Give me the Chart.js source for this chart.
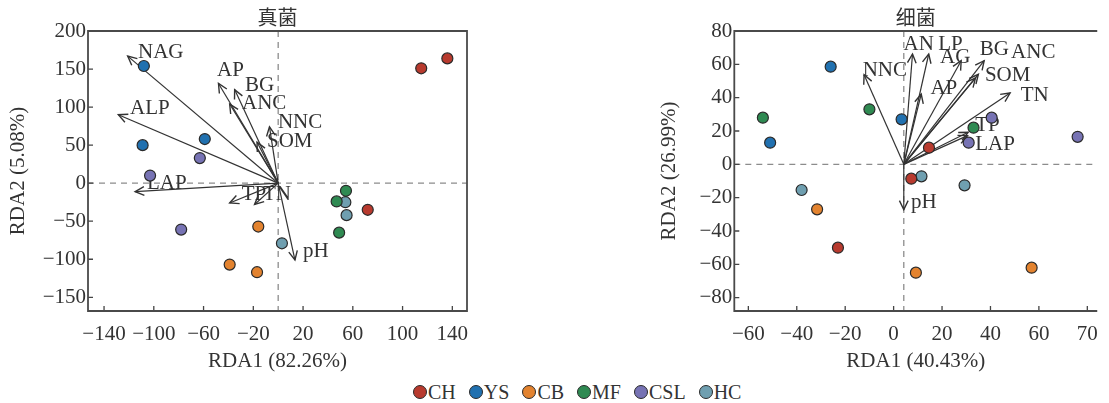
<!DOCTYPE html>
<html>
<head>
<meta charset="utf-8">
<script src="https://cdn.jsdelivr.net/npm/chart.js@4.4.0/dist/chart.umd.min.js"></script>
<style>
  body { margin: 0; background: #fff; width: 1109px; height: 403px; position: relative; overflow: hidden; }
  #leftBox { position: absolute; left: 0; top: 0; width: 480px; height: 380px; }
  #rightBox { position: absolute; left: 640px; top: 0; width: 469px; height: 380px; }
  #legend { position: absolute; left: 413px; top: 380px; height: 24px; display: flex; align-items: center; gap: 13px;
            font: 20px "Liberation Serif", "Times New Roman", serif; color: #333; }
  #legend .item { display: flex; align-items: center; }
  #legend .dot { width: 12px; height: 12px; border-radius: 50%; border: 1.2px solid #2a2a2a; margin-right: 1px; }
</style>
</head>
<body>
<div id="leftBox"><canvas id="fungi" width="480" height="380"></canvas></div>
<div id="rightBox"><canvas id="bacteria" width="469" height="380"></canvas></div>
<div id="legend"></div>
<script>
// groups
const groups = ['CH', 'YS', 'CB', 'MF', 'CSL', 'HC'];
const groupColors = ['#b83a2e', '#2171b0', '#e3832f', '#2f8a52', '#7773b4', '#6f9fb0'];

// 真菌 (fungi) sample scores, one row per group
const fungiX = [
  [115, 136, 72],
  [-108, -109, -59],
  [-16, -39, -17],
  [54.5, 47, 49],
  [-63, -103, -78],
  [54, 55, 3]
];
const fungiY = [
  [151, 164, -35],
  [154, 50, 58],
  [-57, -107, -117],
  [-10, -24, -65],
  [33, 10, -61],
  [-25, -42, -79]
];
// fungi environmental arrows
const fungiVars = ['NAG', 'AP', 'BG', 'ANC', 'NNC', 'SOM', 'ALP', 'LAP', 'TP', 'TN', 'pH'];
const fungiTipX = [-121, -48, -35, -39, -7, -17, -128.5, -115, -39, -19, 13.5];
const fungiTipY = [167, 131, 123, 104, 74, 54, 90, -11, -26, -28, -101];
const fungiLabelX = [-112.7, -49.2, -26.7, -29.1, -0.2, -9, -119.1, -105.5, -29.3, -12.2, 19.9];
const fungiLabelY = [172, 148, 128, 104.5, 79.5, 55, 98, -1, -15, -15, -89.5];
const fungiXTicks = [-140, -100, -60, -20, 20, 60, 100, 140];
const fungiXTickLabels = ['−140', '−100', '−60', '−20', '20', '60', '100', '140'];
const fungiYTicks = [-150, -100, -50, 0, 50, 100, 150, 200];
const fungiYTickLabels = ['−150', '−100', '−50', '0', '50', '100', '150', '200'];

// 细菌 (bacteria) sample scores
const bactX = [
  [14.6, 7.3, -23],
  [-26, -51, 3.3],
  [-31.6, 9.2, 57],
  [-54, -10, 33],
  [40.5, 31, 76],
  [11.5, 29.3, -38]
];
const bactY = [
  [10, -8.6, -50],
  [58.6, 13, 27],
  [-27, -65, -62],
  [28, 33, 22],
  [28, 13, 16.5],
  [-7.2, -12.6, -15.4]
];
const bactVars = ['NNC', 'AN', 'LP', 'AG', 'BG', 'ANC', 'SOM', 'AP', 'TN', 'TP', 'LAP', 'pH'];
const bactTipX = [-12.2, 7.8, 14.5, 27.9, 37.4, 35, 33.8, 11.4, 48.1, 30.8, 30.5, 4.2];
const bactTipY = [53.8, 66.2, 66.2, 62.2, 62.2, 54, 51.8, 42.2, 42.8, 19.2, 17.2, -27.2];
const bactLabelX = [-12.8, 4.1, 18.4, 19.2, 35.6, 48.5, 37.7, 15.2, 52.5, 33.7, 33.7, 7.2];
const bactLabelY = [56.2, 72.2, 72.2, 64.2, 69.2, 67.2, 53.2, 45.6, 41.6, 23.2, 12.2, -22.8];
const bactXTicks = [-60, -40, -20, 0, 20, 40, 60, 80];
const bactXTickLabels = ['−60', '−40', '−20', '0', '20', '40', '60', '70'];
const bactYTicks = [-80, -60, -40, -20, 0, 20, 40, 60, 80];
const bactYTickLabels = ['−80', '−60', '−40', '−20', '0', '20', '40', '60', '80'];

const SERIF = '"Liberation Serif", "Times New Roman", serif';
Chart.defaults.font.family = SERIF;
Chart.defaults.font.size = 21;
Chart.defaults.color = '#333';

const decor = {
  id: 'decor',
  beforeDatasetsDraw(chart, args, opts) {
    const { ctx, chartArea: a, scales: { x, y } } = chart;
    const ox = x.getPixelForValue(opts.originX);
    const oy = y.getPixelForValue(0);
    ctx.save();
    ctx.beginPath();
    ctx.rect(a.left, a.top, a.right - a.left, a.bottom - a.top);
    ctx.clip();
    // dashed reference lines
    ctx.strokeStyle = '#8c8c8c';
    ctx.lineWidth = 1.3;
    ctx.setLineDash([6, 5]);
    ctx.beginPath();
    ctx.moveTo(a.left, oy); ctx.lineTo(a.right, oy);
    ctx.moveTo(ox, a.top); ctx.lineTo(ox, a.bottom);
    ctx.stroke();
    ctx.setLineDash([]);
    // arrow heads
    ctx.strokeStyle = '#333';
    ctx.lineWidth = 1.4;
    opts.tipX.forEach((tx, i) => {
      const px = x.getPixelForValue(tx);
      const py = y.getPixelForValue(opts.tipY[i]);
      const ang = Math.atan2(py - oy, px - ox);
      ctx.beginPath();
      ctx.moveTo(px + 10 * Math.cos(ang + Math.PI - 0.45), py + 10 * Math.sin(ang + Math.PI - 0.45));
      ctx.lineTo(px, py);
      ctx.lineTo(px + 10 * Math.cos(ang + Math.PI + 0.45), py + 10 * Math.sin(ang + Math.PI + 0.45));
      ctx.stroke();
    });
    ctx.restore();
    // variable labels
    ctx.save();
    ctx.fillStyle = '#333';
    ctx.font = '21px ' + SERIF;
    ctx.textAlign = 'left';
    ctx.textBaseline = 'middle';
    opts.names.forEach((n, i) => {
      ctx.fillText(n, x.getPixelForValue(opts.labelX[i]), y.getPixelForValue(opts.labelY[i]));
    });
    ctx.restore();
  },
  afterDraw(chart, args, opts) {
    const { ctx, chartArea: a, scales: { x, y } } = chart;
    ctx.save();
    // inward tick marks
    ctx.strokeStyle = '#444';
    ctx.lineWidth = 1.3;
    ctx.beginPath();
    x.ticks.forEach(t => {
      const px = x.getPixelForValue(t.value);
      ctx.moveTo(px, a.bottom); ctx.lineTo(px, a.bottom - 5);
    });
    y.ticks.forEach(t => {
      const py = y.getPixelForValue(t.value);
      ctx.moveTo(a.left, py); ctx.lineTo(a.left + 5, py);
    });
    ctx.stroke();
    // frame
    ctx.strokeStyle = '#4a4a4a';
    ctx.lineWidth = 1.8;
    ctx.beginPath();
    if (opts.closed) {
      ctx.rect(a.left, a.top, a.right - a.left, a.bottom - a.top);
    } else {
      ctx.moveTo(a.right, a.top); ctx.lineTo(a.left, a.top);
      ctx.lineTo(a.left, a.bottom); ctx.lineTo(a.right, a.bottom);
    }
    ctx.stroke();
    // title
    ctx.fillStyle = '#333';
    ctx.font = '20px "Noto Sans CJK SC", sans-serif';
    ctx.textAlign = 'center';
    ctx.textBaseline = 'middle';
    ctx.fillText(opts.title, (a.left + a.right) / 2, 17);
    ctx.restore();
  }
};

function makeChart(id, d) {
  const datasets = [];
  d.names.forEach((n, i) => {
    datasets.push({
      data: [{ x: d.originX, y: 0 }, { x: d.tipX[i], y: d.tipY[i] }],
      showLine: true,
      borderColor: '#333',
      borderWidth: 1.2,
      pointRadius: 0,
      order: 2
    });
  });
  groups.forEach((g, gi) => {
    datasets.push({
      label: g,
      data: d.xs[gi].map((v, k) => ({ x: v, y: d.ys[gi][k] })),
      backgroundColor: groupColors[gi],
      borderColor: '#2a2a2a',
      borderWidth: 1.2,
      pointRadius: 5.5,
      order: 1
    });
  });
  return new Chart(document.getElementById(id), {
    type: 'scatter',
    data: { datasets },
    options: {
      responsive: false,
      animation: false,
      devicePixelRatio: 1,
      layout: { padding: d.padding },
      plugins: {
        legend: { display: false },
        tooltip: { enabled: false },
        decor: {
          originX: d.originX, tipX: d.tipX, tipY: d.tipY, names: d.names,
          labelX: d.labelX, labelY: d.labelY, title: d.title, closed: d.closed
        }
      },
      scales: {
        x: {
          type: 'linear', min: d.xMin, max: d.xMax,
          grid: { display: false, drawTicks: false },
          border: { display: false },
          afterBuildTicks: s => { s.ticks = d.xTicks.map(v => ({ value: v })); },
          afterFit: s => { s.height = 63; },
          ticks: { autoSkip: false, maxRotation: 0, padding: 11, callback: (v, i) => d.xTickLabels[i] },
          title: { display: true, text: d.xTitle, padding: 0 }
        },
        y: {
          type: 'linear', min: d.yMin, max: d.yMax,
          grid: { display: false, drawTicks: false },
          border: { display: false },
          afterBuildTicks: s => { s.ticks = d.yTicks.map(v => ({ value: v })); },
          afterFit: s => { s.width = d.yWidth; },
          ticks: { autoSkip: false, padding: 2, callback: (v, i) => d.yTickLabels[i] },
          title: { display: true, text: d.yTitle, padding: { top: d.yTitlePad, bottom: 0 } }
        }
      }
    },
    plugins: [decor]
  });
}

makeChart('fungi', {
  title: '真菌', xTitle: 'RDA1 (82.26%)', yTitle: 'RDA2 (5.08%)',
  xs: fungiX, ys: fungiY, names: fungiVars, tipX: fungiTipX, tipY: fungiTipY,
  labelX: fungiLabelX, labelY: fungiLabelY, originX: 0,
  xMin: -152.9, xMax: 151.8, yMin: -168, yMax: 200,
  xTicks: fungiXTicks, xTickLabels: fungiXTickLabels, yTicks: fungiYTicks, yTickLabels: fungiYTickLabels,
  padding: { top: 31, right: 13, bottom: 6, left: 0 }, yWidth: 88, yTitlePad: 6, closed: true
});

makeChart('bacteria', {
  title: '细菌', xTitle: 'RDA1 (40.43%)', yTitle: 'RDA2 (26.99%)',
  xs: bactX, ys: bactY, names: bactVars, tipX: bactTipX, tipY: bactTipY,
  labelX: bactLabelX, labelY: bactLabelY, originX: 4.2,
  xMin: -65.8, xMax: 84.1, yMin: -88, yMax: 80,
  xTicks: bactXTicks, xTickLabels: bactXTickLabels, yTicks: bactYTicks, yTickLabels: bactYTickLabels,
  padding: { top: 31, right: 0, bottom: 6, left: 0 }, yWidth: 94.3, yTitlePad: 17, closed: false
});

// legend
const legend = document.getElementById('legend');
groups.forEach((g, i) => {
  const item = document.createElement('span');
  item.className = 'item';
  const dot = document.createElement('span');
  dot.className = 'dot';
  dot.style.background = groupColors[i];
  const txt = document.createElement('span');
  txt.textContent = g;
  item.appendChild(dot);
  item.appendChild(txt);
  legend.appendChild(item);
});
</script>
</body>
</html>
